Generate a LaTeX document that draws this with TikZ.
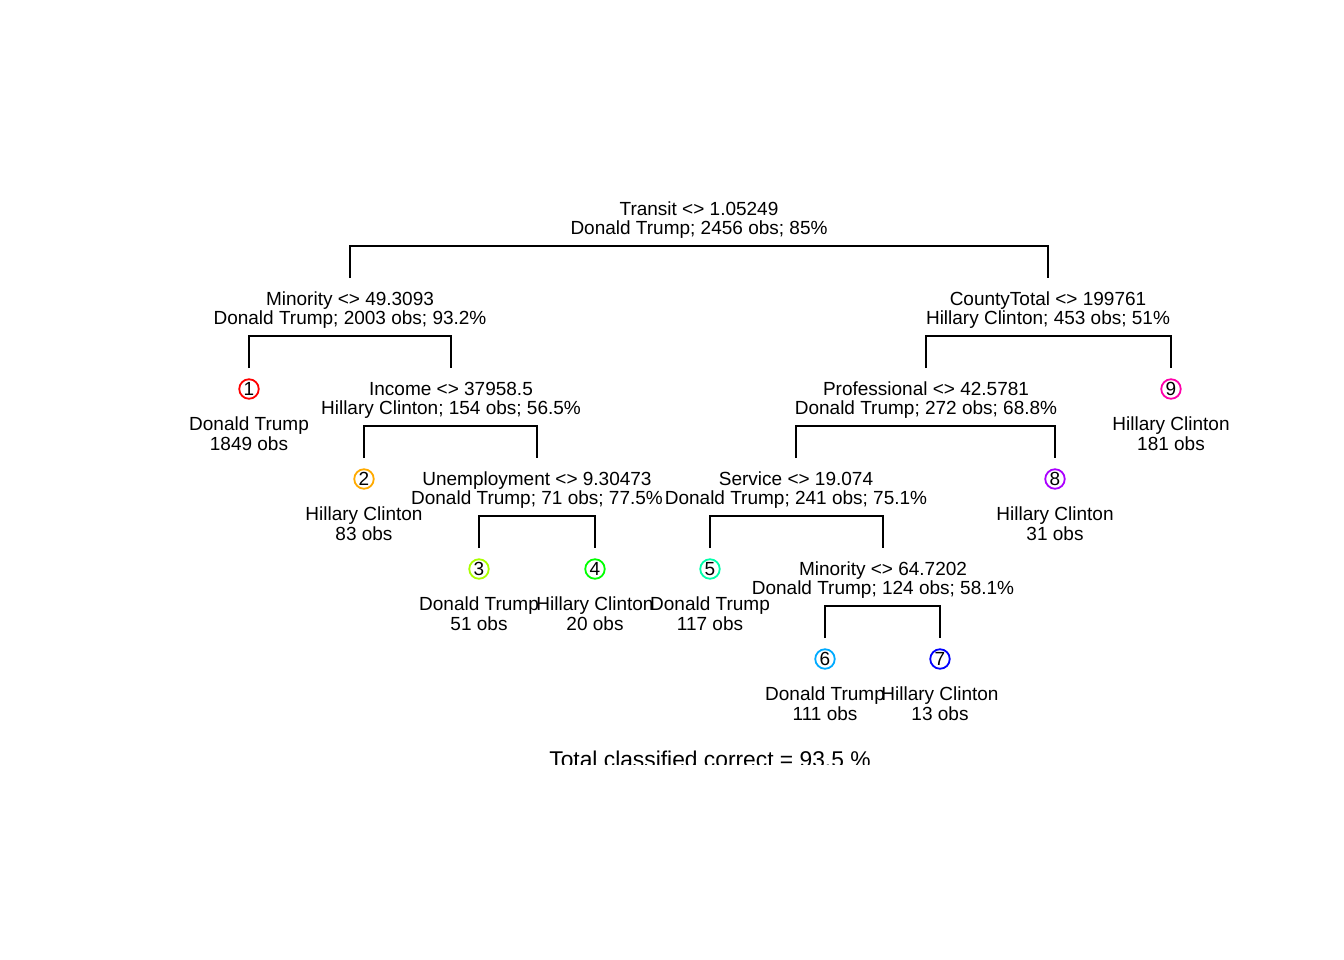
\documentclass[tikz,border=0pt]{standalone}
\usepackage{fontspec}
\setmainfont{Liberation Sans}
\definecolor{k1}{HTML}{FF0000}
\definecolor{k2}{HTML}{FFAA00}
\definecolor{k3}{HTML}{AAFF00}
\definecolor{k4}{HTML}{00FF00}
\definecolor{k5}{HTML}{00FFAA}
\definecolor{k6}{HTML}{00AAFF}
\definecolor{k7}{HTML}{0000FF}
\definecolor{k8}{HTML}{AA00FF}
\definecolor{k9}{HTML}{FF00AA}
\newcommand\splitnode[5]{%
  \node[lab] (#1a) at (#2,#3-30.5) {#4};
  \node[lab] (#1b) at (#2,#3-12) {#5};
  \coordinate (#1) at (#2,#3);}
\newcommand\leafnode[7]{%
  \coordinate (#1t) at (#2,#3);
  \node[num,draw=#5] (#1c) at (#2,#3+21) {#4};
  \node[lab] (#1a) at (#2,#3+62) {#6};
  \node[lab] (#1b) at (#2,#3+82.7) {#7};}
\begin{document}
\begin{tikzpicture}[x=1pt,y=-1pt,
  lab/.style={anchor=base,inner sep=0pt,font=\fontsize{19}{19}\selectfont},
  num/.style={circle,line width=1.8pt,minimum size=19.5pt,inner sep=0pt,font=\fontsize{19}{19}\selectfont},
  edge/.style={line width=2pt}]
\useasboundingbox (0,0) rectangle (1344,960);
% split nodes
\splitnode{root}{699}{246}{Transit <> 1.05249}{Donald Trump; 2456 obs; 85\%}
\coordinate (Mt) at (350,278);
\splitnode{M}{350}{336}{Minority <> 49.3093}{Donald Trump; 2003 obs; 93.2\%}
\coordinate (CTt) at (1048,278);
\splitnode{CT}{1048}{336}{CountyTotal <> 199761}{Hillary Clinton; 453 obs; 51\%}
\coordinate (It) at (451,368);
\splitnode{I}{451}{426}{Income <> 37958.5}{Hillary Clinton; 154 obs; 56.5\%}
\coordinate (Ut) at (537,458);
\splitnode{U}{537}{516}{Unemployment <> 9.30473}{Donald Trump; 71 obs; 77.5\%}
\coordinate (Pt) at (926,368);
\splitnode{P}{926}{426}{Professional <> 42.5781}{Donald Trump; 272 obs; 68.8\%}
\coordinate (St) at (796,458);
\splitnode{S}{796}{516}{Service <> 19.074}{Donald Trump; 241 obs; 75.1\%}
\coordinate (Nt) at (883,548);
\splitnode{N}{883}{606}{Minority <> 64.7202}{Donald Trump; 124 obs; 58.1\%}
% leaves
\leafnode{L1}{249}{368}{1}{k1}{Donald Trump}{1849 obs}
\leafnode{L2}{364}{458}{2}{k2}{Hillary Clinton}{83 obs}
\leafnode{L3}{479}{548}{3}{k3}{Donald Trump}{51 obs}
\leafnode{L4}{595}{548}{4}{k4}{Hillary Clinton}{20 obs}
\leafnode{L5}{710}{548}{5}{k5}{Donald Trump}{117 obs}
\leafnode{L6}{825}{638}{6}{k6}{Donald Trump}{111 obs}
\leafnode{L7}{940}{638}{7}{k7}{Hillary Clinton}{13 obs}
\leafnode{L8}{1055}{458}{8}{k8}{Hillary Clinton}{31 obs}
\leafnode{L9}{1171}{368}{9}{k9}{Hillary Clinton}{181 obs}
% connectors
\draw[edge] (Mt) |- (root) -| (CTt);
\draw[edge] (L1t) |- (M) -| (It);
\draw[edge] (L2t) |- (I) -| (Ut);
\draw[edge] (L3t) |- (U) -| (L4t);
\draw[edge] (Pt) |- (CT) -| (L9t);
\draw[edge] (St) |- (P) -| (L8t);
\draw[edge] (L5t) |- (S) -| (Nt);
\draw[edge] (L6t) |- (N) -| (L7t);
% total
\begin{scope}
\clip (0,0) rectangle (1344,764);
\node[anchor=base,inner sep=0pt,font=\fontsize{22.8}{23}\selectfont] (total) at (710,767) {Total classified correct = 93.5 \%};
\end{scope}
\end{tikzpicture}
\end{document}
